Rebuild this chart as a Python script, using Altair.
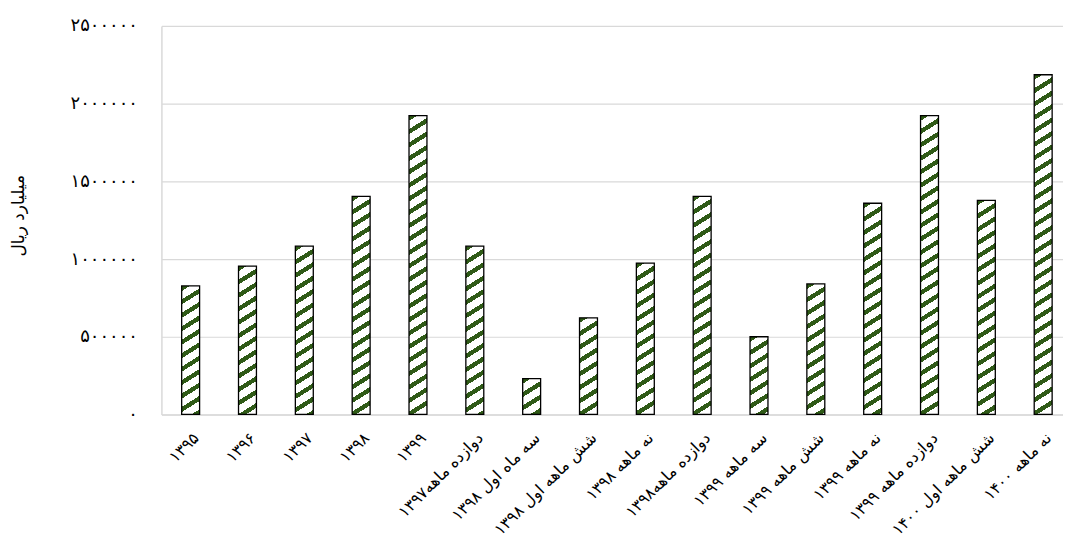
import math
import altair as alt
import pandas as pd

categories = [
    "۱۳۹۵", "۱۳۹۶", "۱۳۹۷", "۱۳۹۸", "۱۳۹۹",
    "دوازده ماهه۱۳۹۷", "سه ماه اول ۱۳۹۸", "شش ماهه اول ۱۳۹۸", "نه ماهه ۱۳۹۸",
    "دوازده ماهه۱۳۹۸", "سه ماهه ۱۳۹۹", "شش ماهه ۱۳۹۹", "نه ماهه ۱۳۹۹",
    "دوازده ماهه ۱۳۹۹", "شش ماهه اول ۱۴۰۰", "نه ماهه ۱۴۰۰",
]
values = [
    827000, 955000, 1083000, 1404000, 1923000,
    1083000, 231000, 622000, 974000,
    1404000, 500000, 840000, 1359000,
    1923000, 1378000, 2186000,
]
y_ticks = [0, 500000, 1000000, 1500000, 2000000, 2500000]
y_title = "میلیارد ریال"
persian_digits = "۰۱۲۳۴۵۶۷۸۹"

# layout / style
W, H = 905, 390
BAR_W = 18
Y_MAX = 2500000
GREEN = "#2F5A17"
PERIOD_V = 13.5          # vertical stripe period in px
ANGLE = math.radians(32)  # stripe slope
GREEN_FRAC = 0.38

df = pd.DataFrame({"cat": categories, "val": values, "idx": list(range(len(values)))})


def stripe_gradient(v):
    h = max(v / Y_MAX * H, 1.0)
    b = 1.0 / PERIOD_V
    a = b * math.tan(ANGLE)
    A, B = a * BAR_W, b * h
    S, Q = A + B, A * A + B * B
    x2, y2 = A * S / Q, B * S / Q
    stops = []
    k = 0
    while k <= S + 1:
        for phi, col in ((k, GREEN), (k + GREEN_FRAC, GREEN), (k + GREEN_FRAC, "#ffffff"), (k + 1, "#ffffff")):
            t = min(max(phi / S, 0.0), 1.0)
            stops.append({"offset": round(t, 5), "color": col})
        k += 1
    return {"gradient": "linear", "x1": 0, "y1": 0, "x2": round(x2, 5), "y2": round(y2, 5), "stops": stops}


conds = [{"test": f"datum.idx === {i}", "value": stripe_gradient(v)} for i, v in enumerate(values)]

lab = "toString(datum.value)"
for d in range(10):
    lab = f"replace({lab}, regexp('{d}', 'g'), '{persian_digits[d]}')"

FONT = "DejaVu Sans"

chart = alt.Chart(df).mark_bar(
    size=BAR_W, stroke="#000000", strokeWidth=1.3
).encode(
    x=alt.X(
        "cat:N", sort=categories, title=None,
        scale=alt.Scale(paddingInner=0.667, paddingOuter=0.265, align=0.656),
        axis=alt.Axis(
            labelAngle=-45, labelAlign="right", labelBaseline="top",
            labelPadding=15, ticks=False, domainColor="#d9d9d9", domainWidth=1.5,
            labelFont=FONT, labelFontSize=16, labelFontWeight="normal",
            labelColor="#000000", labelLimit=0, grid=False,
        ),
    ),
    y=alt.Y(
        "val:Q", title=y_title,
        scale=alt.Scale(domain=[0, Y_MAX], nice=False),
        axis=alt.Axis(
            values=y_ticks, labelExpr=lab, ticks=False,
            domain=True, domainColor="#d9d9d9", domainWidth=1.5,
            gridColor="#d9d9d9", gridWidth=1.2,
            labelPadding=24, labelFont=FONT, labelFontSize=18, labelFontWeight="normal",
            labelColor="#000000",
            titleFont=FONT, titleFontSize=17, titleFontWeight="normal", titleColor="#000000",
            titleX=-143, titleY=190, titleAngle=270, titleBaseline="middle", titleAlign="center",
        ),
    ),
    fill=alt.FillValue(value="#ffffff", condition=conds),
).properties(
    width=W, height=H,
    autosize=alt.AutoSizeParams(type="none"),
    padding={"left": 154, "top": 17, "right": 0, "bottom": 129},
    background="#ffffff",
).configure_view(stroke=None)

chart.save("out.html", embed_options={"renderer": "svg", "actions": False})
